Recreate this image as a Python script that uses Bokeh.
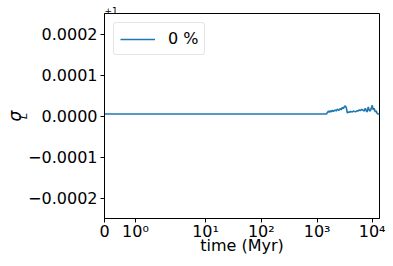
import math
from bokeh.plotting import figure
from bokeh.models import (Range1d, FixedTicker, CustomJSTickFormatter, CustomJSTransform,
                          ColumnDataSource, LinearAxis)
from bokeh.transform import transform
from bokeh.embed import file_html
from bokeh.resources import INLINE

# ---- data ----
time_myr = [0, 1, 10, 100, 1000, 1466, 1590, 1650, 1727, 1800, 1876, 1950, 2123, 2200,
            2305, 2450, 2606, 2700, 2830, 2948, 3080, 3200, 3336, 3475, 3600, 3772, 4000,
            4270, 4550, 4832, 5245, 5464, 5700, 5930, 6300, 6710, 7000, 7283, 7600, 7904,
            8233, 8600, 8938, 9300, 9702, 10110, 10500, 10970, 11400, 11910, 12400, 13100]
# sigma_L - 1 (the axis shows an offset of +1)
sigma_L_offset = [5e-6, 5e-6, 5e-6, 5e-6, 5e-6, 5e-6, 12e-6, 9e-6, 13e-6, 10e-6, 14e-6, 11e-6,
                  15e-6, 12e-6, 17e-6, 14e-6, 18e-6, 15e-6, 21e-6, 18e-6, 23e-6, 25e-6, 20e-6,
                  7e-6, 10e-6, 9e-6, 11e-6, 10e-6, 12e-6, 10e-6, 13e-6, 12e-6, 15e-6, 13e-6,
                  16e-6, 14e-6, 12e-6, 19e-6, 13e-6, 10e-6, 22e-6, 14e-6, 12e-6, 18e-6, 26e-6,
                  15e-6, 19e-6, 10e-6, 13e-6, 6e-6, 5e-6, 5e-6]
series_label = "0 %"
x_tick_values = [0, 1, 10, 100, 1000, 10000]
x_tick_labels = ["0", "10\u2070", "10\u00b9", "10\u00b2", "10\u00b3", "10\u2074"]
y_tick_values = [-0.0002, -0.0001, 0.0, 0.0001, 0.0002]
x_title = "time (Myr)"
y_title_main = "\u03c3"
y_title_sub = "L"
offset_text = "+1"
x_max = 13100
y_lim = 0.00025

# symlog scale (linthresh=2, base 10, linscale 1), as matplotlib
LINTHRESH = 2.0
LINSCALE_ADJ = 1.0 / (1.0 - 1.0 / 10.0)


def symlog(v):
    a = abs(v)
    if a <= LINTHRESH:
        return v * LINSCALE_ADJ
    return math.copysign(LINTHRESH * (LINSCALE_ADJ + math.log10(a / LINTHRESH)), v)


symlog_js = CustomJSTransform(
    args=dict(L=LINTHRESH, A=LINSCALE_ADJ),
    v_func="""
    const out = new Float64Array(xs.length);
    for (let i = 0; i < xs.length; i++) {
      const x = xs[i]; const ax = Math.abs(x);
      out[i] = ax <= L ? x * A : Math.sign(x) * L * (A + Math.log10(ax / L));
    }
    return out;
    """)

FONT = "DejaVu Sans"

p = figure(width=385, height=258, output_backend="svg", toolbar_location=None,
           x_range=Range1d(0, symlog(x_max)), y_range=Range1d(-y_lim, y_lim),
           min_border_left=104, min_border_right=6, min_border_top=13, min_border_bottom=40,
           background_fill_color="white", border_fill_color="white")

p.xgrid.visible = False
p.ygrid.visible = False
p.outline_line_color = "black"
p.outline_line_width = 1
p.outline_line_alpha = 1

# offset text "+1" as the (tiny) title above the frame
p.title.text = offset_text
p.title.text_font = FONT
p.title.text_font_size = "9px"
p.title.text_font_style = "normal"
p.title.text_color = "black"
p.title.align = "left"
p.title.offset = 0
p.title.standoff = 0

src = ColumnDataSource(dict(t=time_myr, v=sigma_L_offset))
p.line(x=transform("t", symlog_js), y="v", source=src, line_color="#1f77b4",
       line_width=1.6, legend_label=series_label)

# x axis
xa = p.xaxis[0]
xa.ticker = FixedTicker(ticks=[symlog(v) for v in x_tick_values], minor_ticks=[])
xa.formatter = CustomJSTickFormatter(args=dict(labels=x_tick_labels),
                                     code="return labels[index];")
xa.axis_label = x_title
xa.axis_label_text_font = FONT
xa.axis_label_text_font_size = "16px"
xa.axis_label_text_font_style = "normal"
xa.axis_label_text_color = "black"
xa.axis_label_standoff = -8
xa.major_label_text_font = FONT
xa.major_label_text_font_size = "16px"
xa.major_label_text_color = "black"
xa.major_label_standoff = -1
xa.major_tick_out = 4
xa.major_tick_in = 0
xa.minor_tick_out = 0
xa.minor_tick_in = 0
xa.axis_line_color = "black"
xa.major_tick_line_color = "black"

# y axis
ya = p.yaxis[0]
ya.ticker = FixedTicker(ticks=y_tick_values, minor_ticks=[])
ya.formatter = CustomJSTickFormatter(code="""
    const s = Math.abs(tick).toFixed(4);
    return (tick < -1e-12 ? "\u2212" : "") + s;""")
ya.major_label_text_font = FONT
ya.major_label_text_font_size = "16px"
ya.major_label_text_color = "black"
ya.major_label_standoff = 3
ya.major_tick_out = 4
ya.major_tick_in = 0
ya.minor_tick_out = 0
ya.minor_tick_in = 0
ya.axis_line_color = "black"
ya.major_tick_line_color = "black"


def title_axis(text, size, bounds, standoff):
    ax = LinearAxis(ticker=FixedTicker(ticks=[], minor_ticks=[]), bounds=bounds,
                    axis_line_color=None, major_tick_line_color=None,
                    minor_tick_line_color=None, major_tick_out=0, major_tick_in=0,
                    minor_tick_out=0, minor_tick_in=0, major_label_standoff=0,
                    axis_label=text, axis_label_text_font=FONT,
                    axis_label_text_font_size=size, axis_label_text_font_style="italic",
                    axis_label_text_color="black", axis_label_standoff=standoff)
    p.add_layout(ax, "left")


# y label sigma_L: subscript "L" next to the tick labels, sigma further out
title_axis(y_title_sub, "11px", (-0.0000400, 0.0000546), -4)
title_axis(y_title_main, "17px", (-0.0000650, 0.0000330), -11)

# legend
lg = p.legend[0]
lg.location = "top_left"
lg.margin = 9
lg.padding = 6
lg.spacing = 0
lg.glyph_width = 35
lg.glyph_height = 18
lg.label_height = 18
lg.label_standoff = 13
lg.label_text_font = FONT
lg.label_text_font_size = "16px"
lg.label_text_color = "black"
lg.border_line_color = "#cccccc"
lg.border_line_width = 1
lg.background_fill_alpha = 0.8
if "border_radius" in lg.properties():
    lg.border_radius = 3

open("out.html", "w").write(file_html(p, INLINE))
